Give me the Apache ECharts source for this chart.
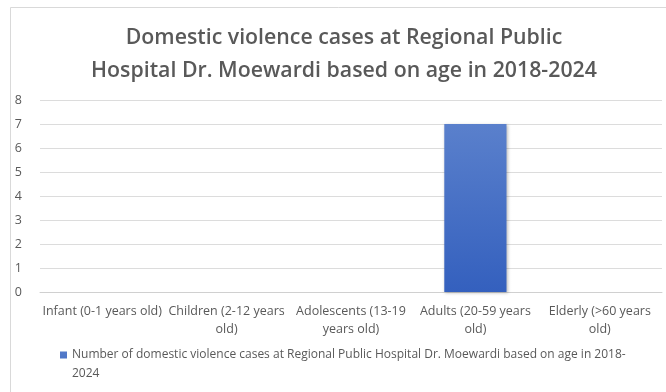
<!DOCTYPE html>
<html><head><meta charset="utf-8">
<script src="https://cdn.jsdelivr.net/npm/echarts@6/dist/echarts.min.js"></script>
<style>html,body{margin:0;padding:0;background:#fff}#c{width:666px;height:392px}</style>
</head><body><div id="c"></div>
<script>
const categories = ['Infant (0-1 years old)', 'Children (2-12 years\nold)', 'Adolescents (13-19\nyears old)', 'Adults (20-59 years\nold)', 'Elderly (>60 years\nold)'];
const cases = [0, 0, 0, 7, 0];
const seriesName = 'Number of domestic violence cases at Regional Public Hospital Dr. Moewardi based on age in 2018-\n2024';
const titleText = 'Domestic violence cases at Regional Public\nHospital Dr. Moewardi based on age in 2018-2024';

const chart = echarts.init(document.getElementById('c'), null, {renderer: 'canvas'});
const font = 'Open Sans';
chart.setOption({
  animation: false,
  backgroundColor: '#fff',
  graphic: [
    {type: 'rect', shape: {x: 10.5, y: 7.5, width: 700, height: 420}, style: {fill: 'none', stroke: '#d9d9d9', lineWidth: 1}, silent: true},
    {type: 'text', x: 344, y: 21, silent: true,
     style: {text: titleText, align: 'center', verticalAlign: 'top', fontFamily: font, fontSize: 21.3, fontWeight: 600, fill: '#595959', lineHeight: 33}}
  ],
  grid: {left: 40, right: 4, top: 100, bottom: 100},
  xAxis: {
    type: 'category', data: categories,
    axisLine: {lineStyle: {color: '#d0d0d0'}}, axisTick: {show: false},
    axisLabel: {interval: 0, color: '#595959', fontFamily: font, fontSize: 12.5, lineHeight: 18, margin: 10}
  },
  yAxis: {
    type: 'value', min: 0, max: 8, interval: 1,
    axisLine: {show: false}, axisTick: {show: false},
    axisLabel: {color: '#595959', fontFamily: font, fontSize: 12.5, margin: 18},
    splitLine: {lineStyle: {color: '#dcdcdc'}}
  },
  legend: {
    left: 60, top: 345.5, padding: 0, itemWidth: 7, itemHeight: 38, itemGap: 4,
    icon: 'path://M0,0L0.01,0 M0,6L7,6L7,13L0,13Z M0,38L0.01,38',
    textStyle: {color: '#595959', fontFamily: font, fontSize: 12, lineHeight: 19}
  },
  series: [{
    name: seriesName, type: 'bar', data: cases, barWidth: '50%',
    itemStyle: {
      color: new echarts.graphic.LinearGradient(0, 0, 0, 1, [{offset: 0, color: '#5a80cc'}, {offset: 1, color: '#3460be'}]),
      shadowColor: 'rgba(0,0,0,0.25)', shadowBlur: 3, shadowOffsetX: 1, shadowOffsetY: 1
    }
  }]
});
</script></body></html>
